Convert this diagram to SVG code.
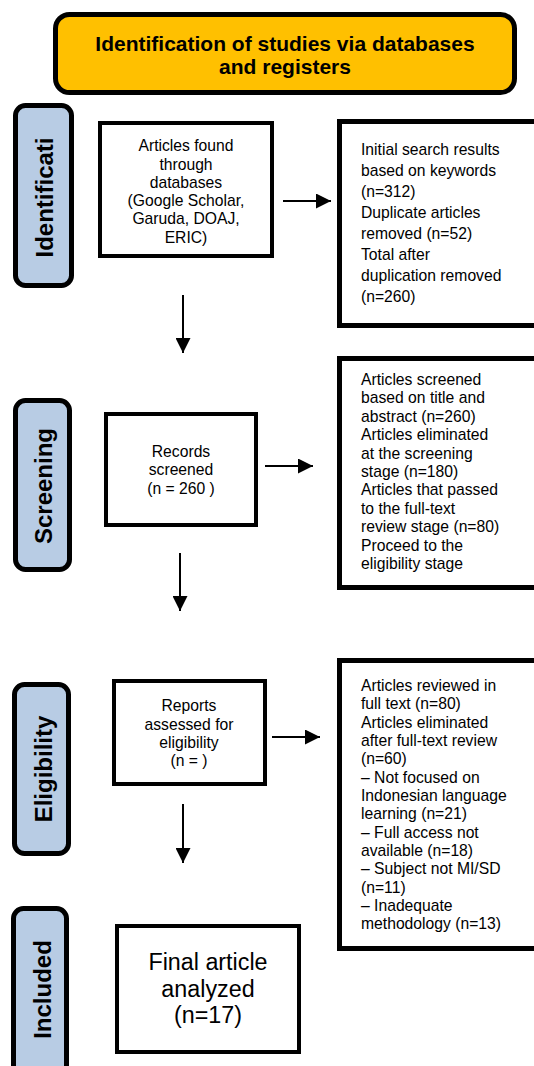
<svg xmlns="http://www.w3.org/2000/svg" width="534" height="1066" viewBox="0 0 534 1066">
<defs>
<style>
.title{fill:#FFC000;stroke:#000;stroke-width:5}
.side{fill:#B8CCE4;stroke:#000;stroke-width:5}
.box{fill:#fff;stroke:#000;stroke-width:4}
.rbox{fill:#fff;stroke:#000;stroke-width:5}
.t{font-family:"Liberation Sans",Arial,sans-serif;font-size:15.7px;fill:#000}
.c{text-anchor:middle}
.big{font-size:23.3px}
.b{font-family:"Liberation Sans",Arial,sans-serif;font-weight:bold;fill:#000}
.lbl{font-size:24px;text-anchor:middle}
.ttl{font-size:21px;text-anchor:middle}
.conn{stroke:#000;stroke-width:2;fill:none}
</style>
<marker id="ah" markerUnits="userSpaceOnUse" markerWidth="15" markerHeight="15" viewBox="0 0 15 15" refX="15" refY="7.5" orient="auto">
<path d="M0,0 L15,7.5 L0,15 Z" fill="#000"/>
</marker>
</defs>
<rect width="534" height="1066" fill="#fff"/>

<g id="title">
<rect class="title" x="55.5" y="14.5" width="459" height="78" rx="14"/>
<text class="b ttl" x="285" y="50.5">Identification of studies via databases</text>
<text class="b ttl" x="285" y="74">and registers</text>
</g>

<g id="side-identification">
<rect class="side" x="15.5" y="105.5" width="56" height="180" rx="10"/>
<text class="b lbl" transform="translate(52.5,197.5) rotate(-90)">Identificati</text>
</g>
<g id="side-screening">
<rect class="side" x="15.5" y="400.5" width="54" height="169" rx="10"/>
<text class="b lbl" transform="translate(52,486) rotate(-90)">Screening</text>
</g>
<g id="side-eligibility">
<rect class="side" x="14.5" y="684.5" width="54" height="169" rx="10"/>
<text class="b lbl" transform="translate(52,769) rotate(-90)">Eligibility</text>
</g>
<g id="side-included">
<rect class="side" x="13.5" y="908.5" width="53" height="170" rx="10"/>
<text class="b lbl" transform="translate(51,989.5) rotate(-90)">Included</text>
</g>

<g id="articles-found">
<rect class="box" x="100" y="123" width="172" height="133"/>
<text class="t c" x="186" y="151">Articles found</text>
<text class="t c" x="186" y="169.5">through</text>
<text class="t c" x="186" y="187.5">databases</text>
<text class="t c" x="186" y="206">(Google Scholar,</text>
<text class="t c" x="186" y="224">Garuda, DOAJ,</text>
<text class="t c" x="186" y="243">ERIC)</text>
</g>

<g id="identification-results">
<rect class="rbox" x="339.5" y="121.5" width="200" height="204"/>
<text class="t" x="361" y="155">Initial search results</text>
<text class="t" x="361" y="176">based on keywords</text>
<text class="t" x="361" y="197">(n=312)</text>
<text class="t" x="361" y="217.5">Duplicate articles</text>
<text class="t" x="361" y="238.5">removed (n=52)</text>
<text class="t" x="361" y="259.5">Total after</text>
<text class="t" x="361" y="280.5">duplication removed</text>
<text class="t" x="361" y="301.5">(n=260)</text>
</g>

<g id="records-screened">
<rect class="box" x="106" y="414" width="150" height="111"/>
<text class="t c" x="181" y="457">Records</text>
<text class="t c" x="181" y="475">screened</text>
<text class="t c" x="181" y="494">(n = 260 )</text>
</g>

<g id="screening-results">
<rect class="rbox" x="339.5" y="358.5" width="200" height="229"/>
<text class="t" x="361" y="385">Articles screened</text>
<text class="t" x="361" y="403.4">based on title and</text>
<text class="t" x="361" y="421.8">abstract (n=260)</text>
<text class="t" x="361" y="440.2">Articles eliminated</text>
<text class="t" x="361" y="458.6">at the screening</text>
<text class="t" x="361" y="477">stage (n=180)</text>
<text class="t" x="361" y="495.4">Articles that passed</text>
<text class="t" x="361" y="513.8">to the full-text</text>
<text class="t" x="361" y="532.2">review stage (n=80)</text>
<text class="t" x="361" y="550.6">Proceed to the</text>
<text class="t" x="361" y="569">eligibility stage</text>
</g>

<g id="reports-assessed">
<rect class="box" x="114" y="681" width="151" height="103"/>
<text class="t c" x="189" y="711">Reports</text>
<text class="t c" x="189" y="730">assessed for</text>
<text class="t c" x="189" y="747.5">eligibility</text>
<text class="t c" x="189" y="765.5">(n = )</text>
</g>

<g id="eligibility-results">
<rect class="rbox" x="339.5" y="660.5" width="200" height="288"/>
<text class="t" x="361" y="691">Articles reviewed in</text>
<text class="t" x="361" y="709.3">full text (n=80)</text>
<text class="t" x="361" y="727.7">Articles eliminated</text>
<text class="t" x="361" y="746">after full-text review</text>
<text class="t" x="361" y="764.3">(n=60)</text>
<text class="t" x="361" y="782.7">– Not focused on</text>
<text class="t" x="361" y="801">Indonesian language</text>
<text class="t" x="361" y="819.3">learning (n=21)</text>
<text class="t" x="361" y="837.7">– Full access not</text>
<text class="t" x="361" y="856">available (n=18)</text>
<text class="t" x="361" y="874.3">– Subject not MI/SD</text>
<text class="t" x="361" y="892.7">(n=11)</text>
<text class="t" x="361" y="911">– Inadequate</text>
<text class="t" x="361" y="929.3">methodology (n=13)</text>
</g>

<g id="final-article">
<rect class="box" x="117" y="926" width="182" height="126"/>
<text class="t c big" x="208" y="970">Final article</text>
<text class="t c big" x="208" y="996.5">analyzed</text>
<text class="t c big" x="208" y="1023">(n=17)</text>
</g>

<g id="connectors">
<line class="conn" x1="283" y1="201" x2="331" y2="201" marker-end="url(#ah)"/>
<line class="conn" x1="265" y1="466" x2="313" y2="466" marker-end="url(#ah)"/>
<line class="conn" x1="272" y1="737" x2="320" y2="737" marker-end="url(#ah)"/>
<line class="conn" x1="183" y1="295" x2="183" y2="353" marker-end="url(#ah)"/>
<line class="conn" x1="180" y1="553" x2="180" y2="611" marker-end="url(#ah)"/>
<line class="conn" x1="183" y1="804" x2="183" y2="863" marker-end="url(#ah)"/>
</g>
</svg>
